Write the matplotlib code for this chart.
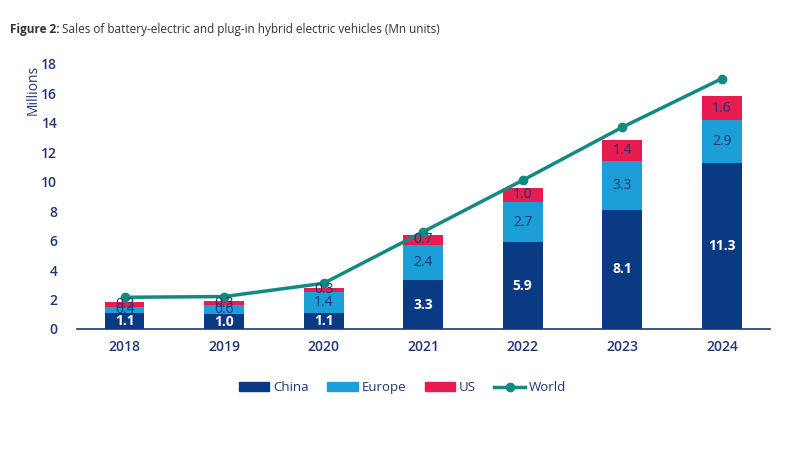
import matplotlib
matplotlib.use("Agg")
import matplotlib.pyplot as plt
from matplotlib.lines import Line2D
from matplotlib.patches import Patch

years = ["2018", "2019", "2020", "2021", "2022", "2023", "2024"]
china = [1.1, 1.0, 1.1, 3.3, 5.9, 8.1, 11.3]
europe = [0.4, 0.6, 1.4, 2.4, 2.7, 3.3, 2.9]
us = [0.3, 0.3, 0.3, 0.7, 1.0, 1.4, 1.6]
world = [2.15, 2.2, 3.1, 6.6, 10.1, 13.7, 17.0]

c_china = "#0a3a84"
c_europe = "#1c9fd6"
c_us = "#e81c50"
c_world = "#138a80"
c_text = "#1e3673"

plt.rcParams["font.family"] = ["Open Sans", "DejaVu Sans"]

fig = plt.figure(figsize=(8, 4.5), dpi=100)
ax = fig.add_axes([0.096, 0.269, 0.866, 0.589])

x = list(range(len(years)))
w = 0.4
bottom2 = [a + b for a, b in zip(china, europe)]
ax.bar(x, china, w, color=c_china, zorder=2)
ax.bar(x, europe, w, bottom=china, color=c_europe, zorder=2)
ax.bar(x, us, w, bottom=bottom2, color=c_us, zorder=2)
ax.plot(x, world, color=c_world, lw=2.5, marker="o", ms=6, zorder=3)

for i in x:
    ax.text(i, china[i] / 2, f"{china[i]:.1f}", ha="center", va="center",
            color="white", fontsize=10, fontweight="bold", zorder=4)
    ax.text(i, china[i] + europe[i] / 2, f"{europe[i]:.1f}", ha="center",
            va="center", color=c_text, fontsize=10, zorder=4)
    ax.text(i, bottom2[i] + us[i] / 2, f"{us[i]:.1f}", ha="center",
            va="center", color=c_text, fontsize=10, zorder=4)

ax.set_xlim(-0.48, 6.48)
ax.set_ylim(0, 18)
ax.set_yticks(range(0, 19, 2))
ax.set_xticks(x)
ax.set_xticklabels(years)
for s in ["top", "right", "left"]:
    ax.spines[s].set_visible(False)
ax.spines["bottom"].set_color(c_text)
ax.spines["bottom"].set_linewidth(1.2)
ax.tick_params(axis="both", length=0, labelsize=10, labelcolor=c_text)
ax.tick_params(axis="x", pad=8)
ax.tick_params(axis="y", pad=14)
for lab in ax.get_xticklabels() + ax.get_yticklabels():
    lab.set_fontweight("semibold")

fig.text(0.042, 0.80, "Millions", rotation=90, ha="center", va="center",
         color=c_text, fontsize=10)

# title: bold prefix then regular text right after it
t1 = fig.text(0.012, 0.935, "Figure 2:", fontsize=8.5, fontweight="bold",
              color="#333333", ha="left", va="center")
fig.canvas.draw()
bb = t1.get_window_extent().transformed(fig.transFigure.inverted())
fig.text(bb.x1 + 0.004, 0.935,
         "Sales of battery-electric and plug-in hybrid electric vehicles (Mn units)",
         fontsize=8.5, color="#333333", ha="left", va="center")

handles = [Patch(color=c_china, label="China"),
           Patch(color=c_europe, label="Europe"),
           Patch(color=c_us, label="US"),
           Line2D([], [], color=c_world, lw=2.5, marker="o", ms=6, label="World")]
leg = fig.legend(handles=handles, loc="center", bbox_to_anchor=(0.503, 0.138),
                 ncol=4, frameon=False, fontsize=9.5, handlelength=2.3,
                 handleheight=0.7, columnspacing=1.4, handletextpad=0.3)
for t in leg.get_texts():
    t.set_color(c_text)

fig.savefig("out.png", dpi=100)
